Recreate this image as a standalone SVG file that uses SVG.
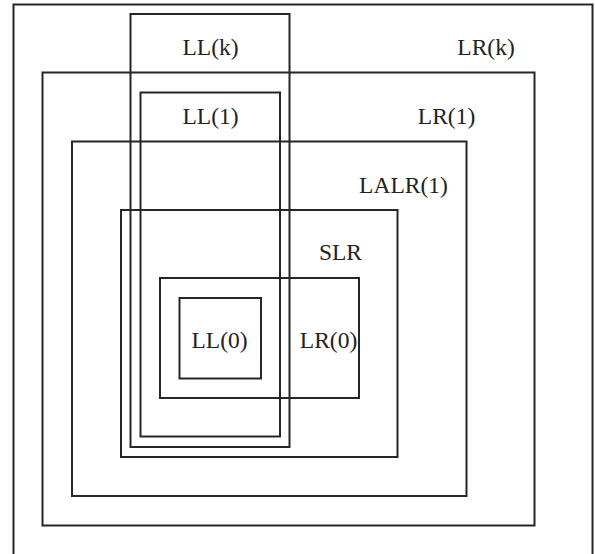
<svg xmlns="http://www.w3.org/2000/svg" width="595" height="554" viewBox="0 0 595 554">
<style>
rect.b{fill:none;stroke:#262626;stroke-width:2}
text{font-family:"Liberation Serif","Times New Roman",serif;font-size:23.5px;fill:#222;text-anchor:middle}
</style>
<rect x="0" y="0" width="595" height="554" fill="#fff"/>
<g id="LRk"><rect class="b" x="13.5" y="4.5" width="579" height="560"/><text x="486" y="55">LR(k)</text></g>
<g id="LR1"><rect class="b" x="42.5" y="72.5" width="492" height="453"/><text x="446.5" y="124">LR(1)</text></g>
<g id="LALR1"><rect class="b" x="72" y="141.5" width="394.5" height="354.5"/><text x="403.5" y="193">LALR(1)</text></g>
<g id="SLR"><rect class="b" x="121" y="210" width="276.5" height="247"/><text x="340.5" y="260">SLR</text></g>
<g id="LLk"><rect class="b" x="130.5" y="14" width="159" height="433"/><text x="210.5" y="55">LL(k)</text></g>
<g id="LL1"><rect class="b" x="140.5" y="92.5" width="139.5" height="344"/><text x="210.5" y="124">LL(1)</text></g>
<g id="LR0"><rect class="b" x="160" y="278" width="199" height="120"/><text x="328.5" y="348">LR(0)</text></g>
<g id="LL0"><rect class="b" x="179.5" y="298" width="81.5" height="80.5"/><text x="219.5" y="348">LL(0)</text></g>
<g id="connectors"></g>
</svg>
